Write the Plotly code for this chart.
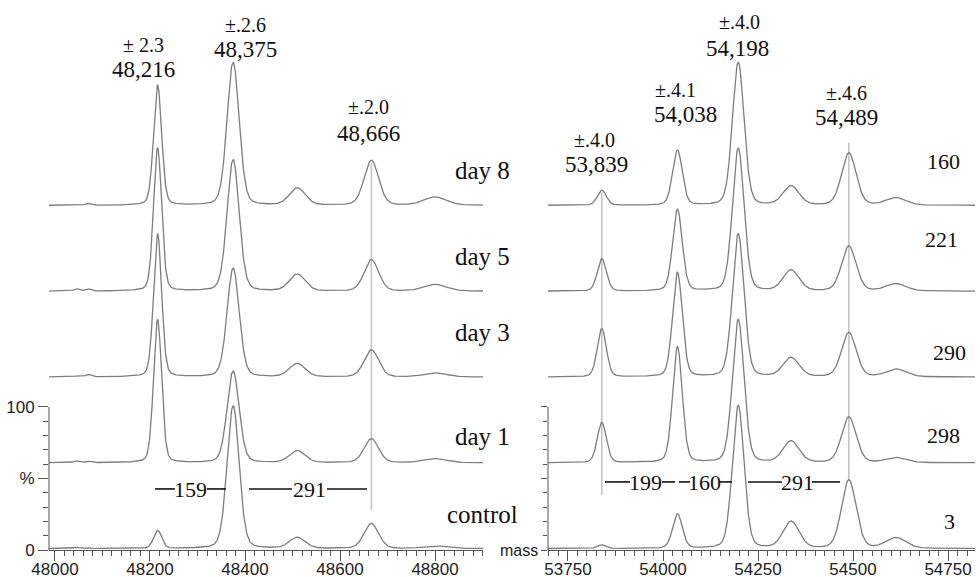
import numpy as np
import plotly.graph_objects as go

# ---------------- data ----------------
TRACE_LABELS = ["control", "day 1", "day 3", "day 5", "day 8"]
RIGHT_LABELS = ["3", "298", "290", "221", "160"]

# left panel: peak centres (Da), widths (FWHM, Da) and normalised heights (%)
LEFT_PEAK_MASS = [48045, 48070, 48216, 48375, 48510, 48666, 48800]
LEFT_PEAK_FWHM = [14, 14, 20, 30, 39, 36, 56]
LEFT_CONTROL = [0.8, 0.5, 12.6, 100, 7.7, 17.5, 1.8]
LEFT_DAY1 = [1.2, 1.0, 100, 64, 8.4, 16.8, 2.8]
LEFT_DAY3 = [0.5, 1.6, 100, 76, 9.3, 19.0, 2.8]
LEFT_DAY5 = [1.5, 1.5, 100, 92, 11.7, 22.0, 4.7]
LEFT_DAY8 = [0.0, 1.2, 84, 100, 12.0, 31.5, 5.8]

# right panel
RIGHT_PEAK_MASS = [53839, 54038, 54198, 54337, 54489, 54613]
RIGHT_PEAK_FWHM = [28, 30, 36, 50, 45, 62]
RIGHT_CONTROL = [2.5, 24, 100, 18.7, 48, 7.5]
RIGHT_DAY1 = [28, 81, 100, 15, 32, 3.5]
RIGHT_DAY3 = [33.8, 73, 100, 13.3, 31, 5.4]
RIGHT_DAY5 = [22.6, 57, 100, 14.5, 31.5, 5.1]
RIGHT_DAY8 = [10.5, 38.5, 100, 13.3, 36.6, 5.2]

LEFT_TICKS = [48000, 48200, 48400, 48600, 48800]
RIGHT_TICKS = [53750, 54000, 54250, 54500, 54750]

LEFT_PEAK_LABELS = [("± 2.3", "48,216"), ("±.2.6", "48,375"), ("±.2.0", "48,666")]
RIGHT_PEAK_LABELS = [("±.4.0", "53,839"), ("±.4.1", "54,038"),
                     ("±.4.0", "54,198"), ("±.4.6", "54,489")]
LEFT_DIFFS = ["159", "291"]
RIGHT_DIFFS = ["199", "160", "291"]

# ---------------- build spectra from peak tables ----------------
ETA = 0.2  # lorentzian fraction of the peak profile


def spectrum(mass, centres, fwhm, heights):
    y = np.zeros_like(mass, dtype=float)
    for c, w, h in zip(centres, fwhm, heights):
        d = (mass - c) / w
        lor = 1.0 / (1.0 + 4.0 * d ** 2)
        gau = np.exp(-4.0 * np.log(2) * d ** 2)
        y += h * (ETA * lor + (1 - ETA) * gau)
    return y


LX_RANGE = [47987.4, 48901]
RX_RANGE = [53697.4, 54821]
Y_TOP = 384.6
STEP = 60
BASE = 1.0

mass_l = np.arange(LX_RANGE[0], LX_RANGE[1] + 1, 1.0)
mass_r = np.arange(RX_RANGE[0], RX_RANGE[1] + 1, 1.0)

left_sets = [LEFT_CONTROL, LEFT_DAY1, LEFT_DAY3, LEFT_DAY5, LEFT_DAY8]
right_sets = [RIGHT_CONTROL, RIGHT_DAY1, RIGHT_DAY3, RIGHT_DAY5, RIGHT_DAY8]

LINE = dict(color="#7d7d7d", width=1.3)
fig = go.Figure()
for i, (lab, hs) in enumerate(zip(TRACE_LABELS, left_sets)):
    fig.add_trace(go.Scatter(
        x=mass_l, y=BASE + i * STEP + spectrum(mass_l, LEFT_PEAK_MASS, LEFT_PEAK_FWHM, hs),
        mode="lines", line=LINE, name=lab, showlegend=False, hoverinfo="skip",
        xaxis="x", yaxis="y"))
for i, (lab, hs) in enumerate(zip(RIGHT_LABELS, right_sets)):
    fig.add_trace(go.Scatter(
        x=mass_r, y=BASE + i * STEP + spectrum(mass_r, RIGHT_PEAK_MASS, RIGHT_PEAK_FWHM, hs),
        mode="lines", line=LINE, name=lab, showlegend=False, hoverinfo="skip",
        xaxis="x2", yaxis="y2"))

# ---------------- axes ----------------
AX_COL = "#555555"
TICKFONT = dict(family="Liberation Sans, Arial, sans-serif", size=17, color="#222222")


def xaxis(domain, rng, ticks, minor_dtick, anchor):
    return dict(domain=domain, range=rng, anchor=anchor, showline=True, linecolor=AX_COL,
                linewidth=1, ticks="outside", ticklen=10, tickcolor=AX_COL, tickwidth=1,
                tickmode="array", tickvals=ticks, ticktext=[str(t) for t in ticks],
                tickfont=TICKFONT, showgrid=False, zeroline=False, automargin=False,
                ticklabelstandoff=-6,
                minor=dict(tick0=ticks[0], dtick=minor_dtick, ticks="outside", ticklen=5,
                           tickcolor=AX_COL, tickwidth=1, showgrid=False))


def yaxis(anchor, labels):
    return dict(domain=[0, 1], range=[0, Y_TOP], anchor=anchor, showline=False,
                showgrid=False, zeroline=False, ticks="outside", ticklen=10 if labels else 6,
                tickcolor=AX_COL, tickwidth=1, tickmode="array", tickvals=[0, 50, 100],
                ticktext=["0", "%", "100"], showticklabels=labels, tickfont=TICKFONT,
                automargin=False,
                minor=dict(tickmode="array", tickvals=[10, 20, 30, 40, 60, 70, 80, 90],
                           ticks="outside", ticklen=5 if labels else 4, tickcolor=AX_COL,
                           tickwidth=1, showgrid=False))


fig.update_layout(
    width=980, height=577,
    margin=dict(l=0, r=0, t=0, b=27, autoexpand=False),
    paper_bgcolor="white", plot_bgcolor="white",
    xaxis=xaxis([49 / 980, 483 / 980], LX_RANGE, LEFT_TICKS, 20, "y"),
    xaxis2=xaxis([548 / 980, 975 / 980], RX_RANGE, RIGHT_TICKS, 25, "y2"),
    yaxis=yaxis("x", True),
    yaxis2=yaxis("x2", False),
)

shapes = [
    dict(type="line", xref="x domain", x0=0, x1=0, yref="y", y0=0, y1=100,
         line=dict(color=AX_COL, width=1)),
    dict(type="line", xref="x2 domain", x0=0, x1=0, yref="y2", y0=0, y1=100,
         line=dict(color=AX_COL, width=1)),
]
GREY = dict(color="#c4c4c4", width=1.6)
shapes += [
    dict(type="line", xref="x", yref="y", x0=48666, x1=48666, y0=28, y1=271, line=GREY, layer="below"),
    dict(type="line", xref="x2", yref="y2", x0=53839, x1=53839, y0=38.5, y1=250, line=GREY, layer="below"),
    dict(type="line", xref="x2", yref="y2", x0=54489, x1=54489, y0=49, y1=285, line=GREY, layer="below"),
]
BLK = dict(color="#111111", width=1.6)
for a, b in [(48210.5, 48252.6), (48320, 48360), (48408.4, 48498.9), (48572.6, 48656.8)]:
    shapes.append(dict(type="line", xref="x", yref="y", x0=a, x1=b, y0=42.7, y1=42.7, line=BLK))
for a, b in [(53847.4, 53913.2), (53997.4, 54031.6), (54042.1, 54071.1), (54150, 54181.6),
             (54223.7, 54313.2), (54392.1, 54465.8)]:
    shapes.append(dict(type="line", xref="x2", yref="y2", x0=a, x1=b, y0=47.6, y1=47.6, line=BLK))
fig.update_layout(shapes=shapes)

# ---------------- text ----------------
SERIF = "Liberation Serif"
ann = []


def txt(x, y, s, size, xr="x", yr="y", fam=SERIF):
    ann.append(dict(x=x, y=y, xref=xr, yref=yr, text=s, showarrow=False,
                    xanchor="center", yanchor="middle",
                    font=dict(family=fam, size=size, color="#111111")))


left_lab_pos = [(48187, 353.1, 335.7), (48402, 367.1, 349.7), (48661, 309.8, 291.6)]
for (pm, mass), (x, y1, y2) in zip(LEFT_PEAK_LABELS, left_lab_pos):
    txt(x, y1, pm, 20)
    txt(x, y2, mass, 23)
right_lab_pos = [(53821, 53824, 286.7, 269.9), (54032, 54058, 321.7, 304.2),
                 (54200, 54197, 369.2, 351.0), (54482, 54482, 319.6, 302.1)]
for (pm, mass), (xa, xb, y1, y2) in zip(RIGHT_PEAK_LABELS, right_lab_pos):
    txt(xa, y1, pm, 20, "x2", "y2")
    txt(xb, y2, mass, 23, "x2", "y2")

day_y = [24.5, 79.7, 152.4, 204.9, 265.7]
for lab, y in zip(TRACE_LABELS, day_y):
    txt(48899, y, lab, 25)
num_pos = [(54755, 19.6), (54737, 80.4), (54753, 137.8), (54734, 216.8), (54737, 272.0)]
for lab, (x, y) in zip(RIGHT_LABELS, num_pos):
    txt(x, y, lab, 22, "x2", "y2")

for lab, x in zip(LEFT_DIFFS, [48286, 48535]):
    txt(x, 42.2, lab, 22)
for lab, x in zip(RIGHT_DIFFS, [53955, 54110, 54353]):
    txt(x, 47.1, lab, 22, "x2", "y2")

ann.append(dict(x=519 / 980, y=0, xref="paper", yref="paper", text="mass", showarrow=False,
                xanchor="center", yanchor="middle",
                font=dict(family="Liberation Sans, Arial, sans-serif", size=16, color="#222222")))
fig.update_layout(annotations=ann)

fig.write_html("out.html", config={"displayModeBar": False},
               post_script="document.body.style.margin='0';")
